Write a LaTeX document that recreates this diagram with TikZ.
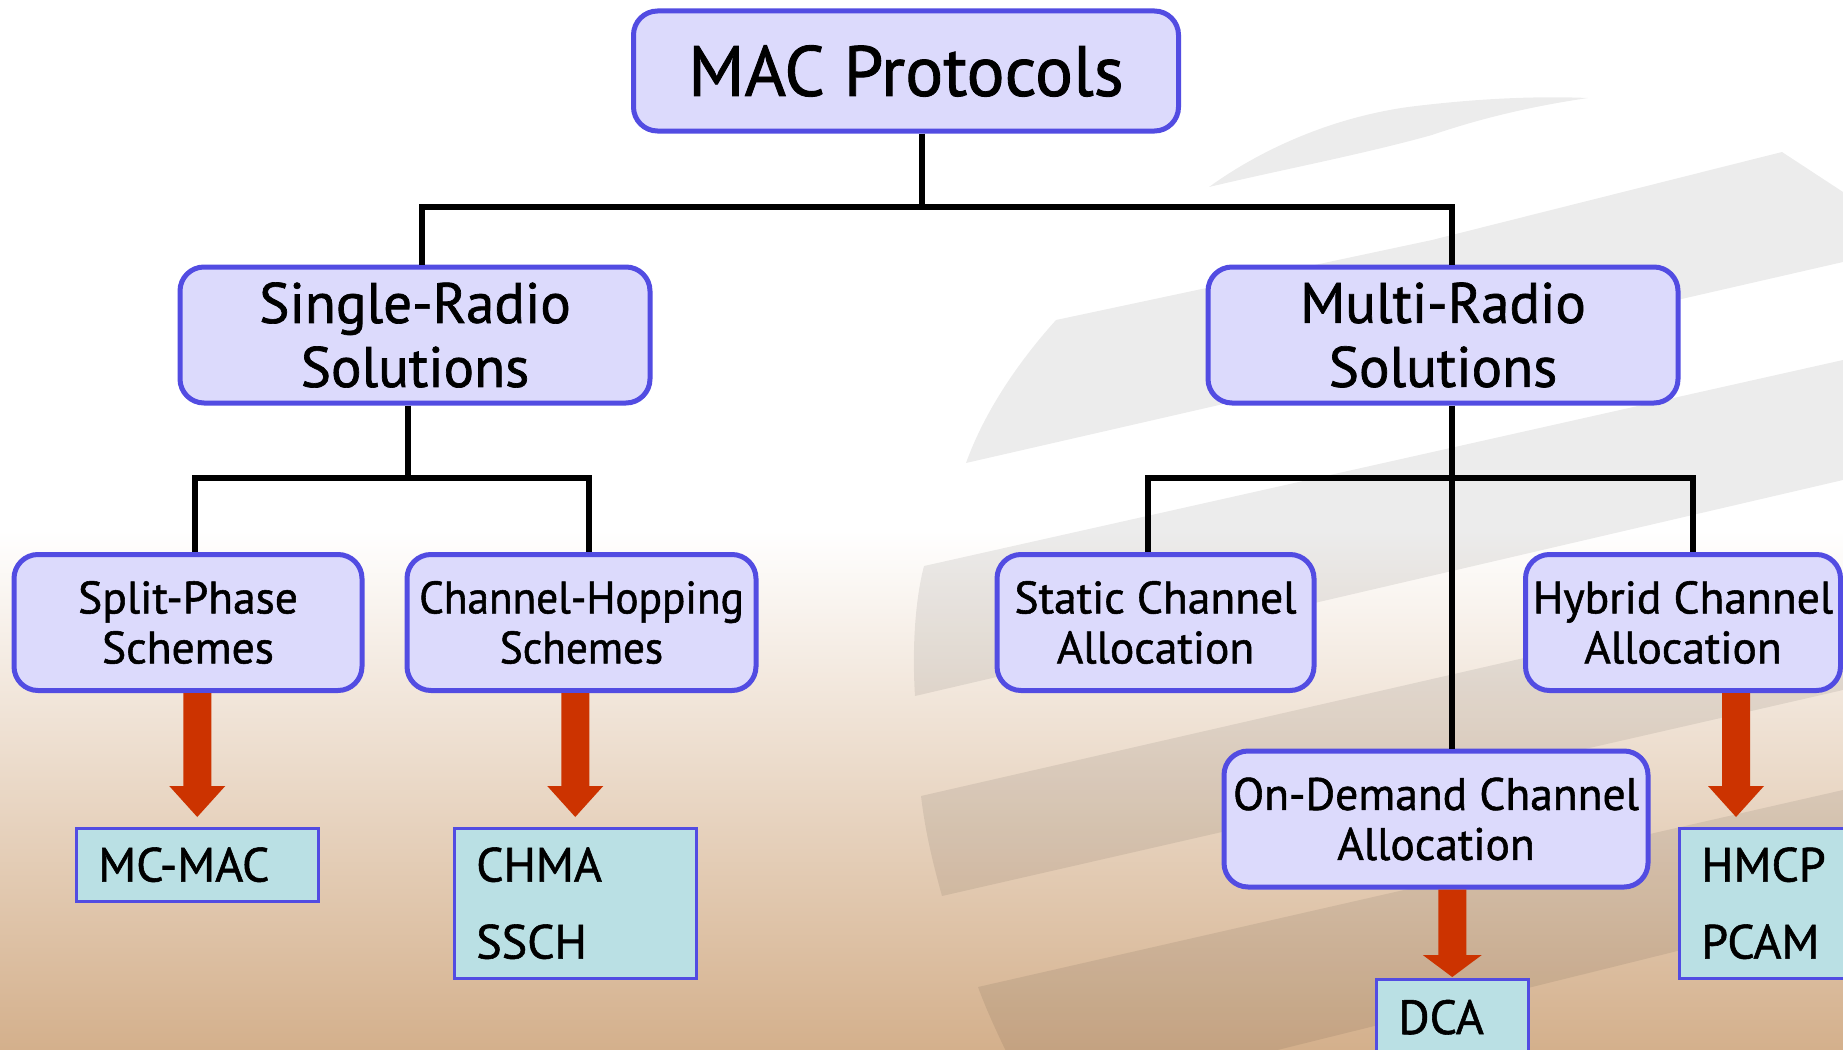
\documentclass[tikz,border=0pt]{standalone}
\usepackage{fontspec}
\setmainfont{PT Sans}[FakeBold=1.2]
\newfontfamily\narrowfont{PT Sans}[FakeStretch=0.95, FakeBold=1.2]
\usetikzlibrary{calc}

\definecolor{boxfill}{RGB}{220,218,252}
\definecolor{boxline}{RGB}{82,76,226}
\definecolor{leaffill}{RGB}{186,224,228}
\definecolor{arrowred}{RGB}{204,51,0}
\definecolor{sand}{RGB}{212,176,140}

\newcommand\bigfont{\fontsize{71}{80}\selectfont}
\newcommand\midfont{\fontsize{57}{64}\selectfont}
\newcommand\smallfont{\fontsize{45.5}{50}\selectfont}
\newcommand\leaffont{\fontsize{48}{77}\selectfont}

% block arrow: #1 start point, #2 target point, #3 gap before target, #4 head length, #5 head half-width
\newcommand\blockarrow[5]{%
  \fill[arrowred] ($(#1)+(-14,0)$) -- ($(#2)+(-14,-#3-#4)$) -- ($(#2)+(-#5,-#3-#4)$)
    -- ($(#2)+(0,-#3)$) -- ($(#2)+(#5,-#3-#4)$) -- ($(#2)+(14,-#3-#4)$)
    -- ($(#1)+(14,0)$) -- cycle;}

\tikzset{
  catbox/.style={draw=boxline, line width=5pt, fill=boxfill, rounded corners=24pt,
    align=center, inner sep=0pt, text=black},
  leafbox/.style={draw=boxline, line width=2.5pt, fill=leaffill, anchor=north west,
    inner xsep=22pt, inner ysep=0pt, align=left, font=\leaffont},
  link/.style={line width=5.5pt, black},
  band/.style={fill=black, fill opacity=0.075},
}

\begin{document}
\begin{tikzpicture}[x=1pt, y=-1pt]
\useasboundingbox (0,0) rectangle (1843,1049);
\clip (0,0) rectangle (1843,1049);

% background: white top fading into sand
\fill[white] (0,0) rectangle (1843,1049);
\shade[top color=white, bottom color=sand] (0,530) rectangle (1843,1049);

% slanted stripes of the backdrop
\fill[band] (1209,187) .. controls (1260,150) and (1330,118) .. (1408,107)
  .. controls (1480,98) and (1540,96) .. (1588,98)
  .. controls (1520,108) and (1470,122) .. (1432,135)
  .. controls (1360,155) and (1280,170) .. cycle;
\fill[band] (1056,320) -- (1432,240) -- (1782,152) -- (1843,192) -- (1843,262)
  -- (966,463) .. controls (985,410) and (1020,360) .. cycle;
\fill[band] (924,566) -- (1843,360) -- (1843,480) -- (915,696)
  .. controls (912,650) and (915,600) .. cycle;
\fill[band] (921,796) -- (1843,585) -- (1843,690) -- (942,896)
  .. controls (932,860) and (925,830) .. cycle;
\fill[band] (978,987) -- (1843,790) -- (1843,910) -- (1035,1110)
  .. controls (1010,1060) and (990,1020) .. cycle;

% category boxes
\node[catbox, font=\bigfont, minimum width=545, minimum height=120] (mac) at (906,71) {MAC Protocols};
\node[catbox, font=\midfont, minimum width=470, minimum height=136] (single) at (415,335) {Single-Radio\\Solutions};
\node[catbox, font=\midfont, minimum width=470, minimum height=136] (multi) at (1443,335) {Multi-Radio\\Solutions};
\node[catbox, font=\smallfont, minimum width=348, minimum height=136] (split) at (188,622.5) {Split-Phase\\Schemes};
\node[catbox, font=\smallfont\narrowfont, minimum width=349, minimum height=136] (chop) at (581.5,622.5) {Channel-Hopping\\Schemes};
\node[catbox, font=\smallfont, minimum width=317, minimum height=136] (static) at (1155.5,622.5) {Static Channel\\Allocation};
\node[catbox, font=\smallfont, minimum width=315, minimum height=136] (hybrid) at (1683,622.5) {Hybrid Channel\\Allocation};
\node[catbox, font=\smallfont, minimum width=424, minimum height=136] (ondemand) at (1436,819) {On-Demand Channel\\Allocation};

% protocol boxes
\node[leafbox, text width=198, minimum height=73] (mcmac) at (75,827) {MC-MAC};
\node[leafbox, text width=198, minimum height=150] (chma) at (453,827) {CHMA\\SSCH};
\node[leafbox, text width=108, minimum height=76] (dca) at (1375,978) {DCA};
\node[leafbox, text width=156, minimum height=150] (hmcp) at (1678,827) {HMCP\\PCAM};

% tree connectors
\coordinate (b1) at (922,207);
\coordinate (b1L) at (422,207);
\coordinate (b1R) at (1452,207);
\draw[link] (mac.south -| b1) -- (b1);
\draw[link] (single.north -| b1L) -- (b1L) -- (b1R) -- (multi.north -| b1R);

\coordinate (b2) at (408,478);
\coordinate (b2L) at (195,478);
\coordinate (b2R) at (589,478);
\draw[link] (single.south -| b2) -- (b2);
\draw[link] (split.north -| b2L) -- (b2L) -- (b2R) -- (chop.north -| b2R);

\coordinate (b3) at (1452,478);
\coordinate (b3L) at (1148,478);
\coordinate (b3R) at (1693,478);
\draw[link] (multi.south -| b3) -- (ondemand.north -| b3);
\draw[link] (static.north -| b3L) -- (b3L) -- (b3R) -- (hybrid.north -| b3R);

% red arrows down to the protocols
\coordinate (hx) at (1736,0);
\coordinate (a1) at (split.south -| mcmac.north);
\coordinate (a2) at (chop.south -| chma.north);
\coordinate (a3) at (ondemand.south -| dca.north);
\coordinate (a4) at (hybrid.south -| hx);
\coordinate (t4) at (hmcp.north -| hx);
\blockarrow{a1}{mcmac.north}{10}{31}{28}
\blockarrow{a2}{chma.north}{10}{31}{28}
\blockarrow{a3}{dca.north}{1}{22}{29.5}
\blockarrow{a4}{t4}{10}{31}{28}
\end{tikzpicture}
\end{document}
